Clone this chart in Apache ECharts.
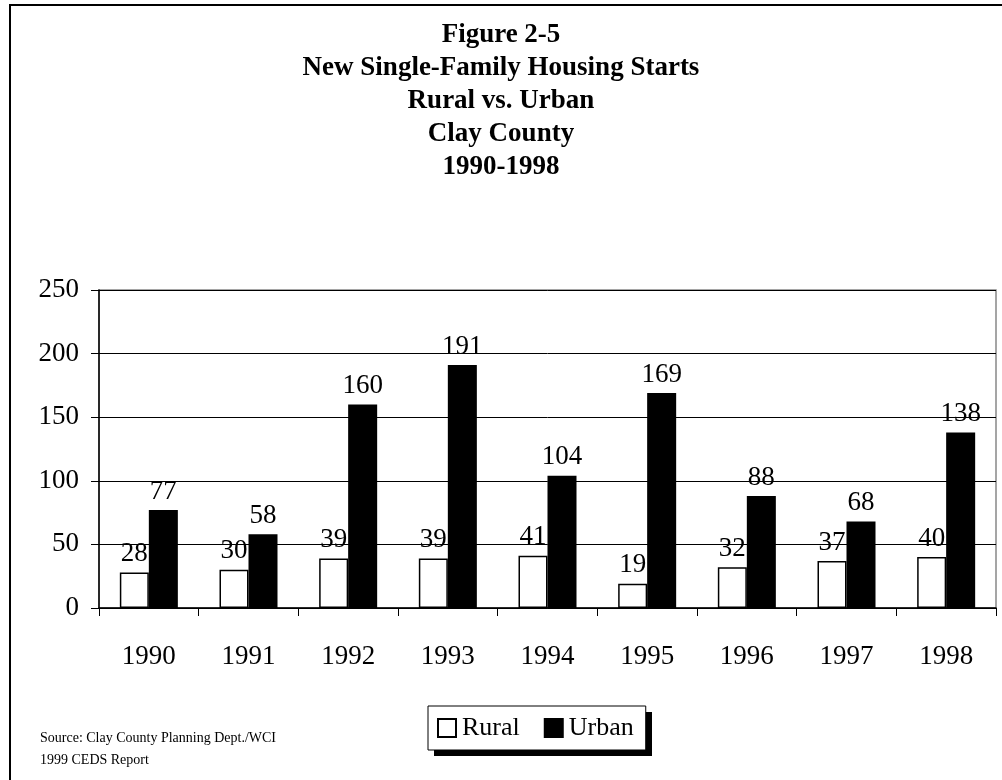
<!DOCTYPE html>
<html>
<head>
<meta charset="utf-8">
<script src="https://cdn.jsdelivr.net/npm/echarts@6/dist/echarts.min.js"></script>
<style>
  html, body { margin: 0; padding: 0; background: #fff; }
  #chart { width: 1002px; height: 780px; }
</style>
</head>
<body>
<div id="chart"></div>
<script>
// data
var years = ['1990', '1991', '1992', '1993', '1994', '1995', '1996', '1997', '1998'];
var rural = [28, 30, 39, 39, 41, 19, 32, 37, 40];
var urban = [77, 58, 160, 191, 104, 169, 88, 68, 138];
var titleLines = ['Figure 2-5', 'New Single-Family Housing Starts', 'Rural vs. Urban', 'Clay County', '1990-1998'];

var serif = '"Liberation Serif", "Times New Roman", serif';
var chart = echarts.init(document.getElementById('chart'));

var labelStyle = {
  show: true,
  position: 'top',
  distance: 5,
  fontFamily: serif,
  fontSize: 27,
  color: '#000'
};

chart.setOption({
  animation: false,
  backgroundColor: '#fff',
  title: {
    text: titleLines.join('\n'),
    left: 'center',
    top: 14,
    textStyle: {
      fontFamily: serif,
      fontWeight: 'bold',
      fontSize: 27,
      lineHeight: 33,
      color: '#000'
    }
  },
  graphic: [
    {
      type: 'rect',
      shape: { x: 10, y: 5, width: 1010, height: 800 },
      style: { fill: 'none', stroke: '#000', lineWidth: 2 },
      z: -1
    },
    // drop shadow behind the legend box
    {
      type: 'rect',
      shape: { x: 434, y: 712, width: 218, height: 44 },
      style: { fill: '#000' },
      z: 0
    },
    {
      type: 'text',
      left: 40,
      top: 727,
      style: {
        text: 'Source: Clay County Planning Dept./WCI\n1999 CEDS Report',
        fontFamily: serif,
        fontSize: 14,
        lineHeight: 22,
        fill: '#000'
      }
    }
  ],
  legend: {
    data: ['Rural', 'Urban'],
    left: 428,
    top: 706,
    padding: [9, 12, 9, 9],
    itemGap: 24,
    itemWidth: 18,
    itemHeight: 18,
    icon: 'rect',
    backgroundColor: '#fff',
    borderColor: '#000',
    borderWidth: 1,
    z: 5,
    textStyle: { fontFamily: serif, fontSize: 26, color: '#000', padding: [0, 0, 0, 1] }
  },
  grid: {
    left: 99,
    right: 6,
    top: 290,
    bottom: 172,
    show: true,
    borderColor: '#888',
    borderWidth: 1.5,
    containLabel: false
  },
  xAxis: {
    type: 'category',
    data: years,
    axisLine: { lineStyle: { color: '#000', width: 1.5 } },
    axisTick: { show: true, alignWithLabel: false, length: 8, lineStyle: { color: '#000' } },
    axisLabel: { fontFamily: serif, fontSize: 27, color: '#000', margin: 35 }
  },
  yAxis: {
    type: 'value',
    min: 0,
    max: 250,
    interval: 50,
    axisLine: { show: true, lineStyle: { color: '#000', width: 1.5 } },
    axisTick: { show: true, length: 8, lineStyle: { color: '#000' } },
    axisLabel: { fontFamily: serif, fontSize: 27, color: '#000', margin: 20 },
    splitLine: { show: true, lineStyle: { color: '#000', width: 1 } }
  },
  series: [
    {
      name: 'Rural',
      type: 'bar',
      data: rural,
      barWidth: 29,
      barGap: '0%',
      itemStyle: { color: '#fff', borderColor: '#000', borderWidth: 1.5 },
      label: labelStyle
    },
    {
      // own layer so the black bars sit over the rural labels, as in the original
      name: 'Urban',
      type: 'bar',
      data: urban,
      barWidth: 29,
      barGap: '0%',
      zlevel: 1,
      itemStyle: { color: '#000', borderColor: '#000', borderWidth: 1.5 },
      label: labelStyle
    }
  ]
});
</script>
</body>
</html>
